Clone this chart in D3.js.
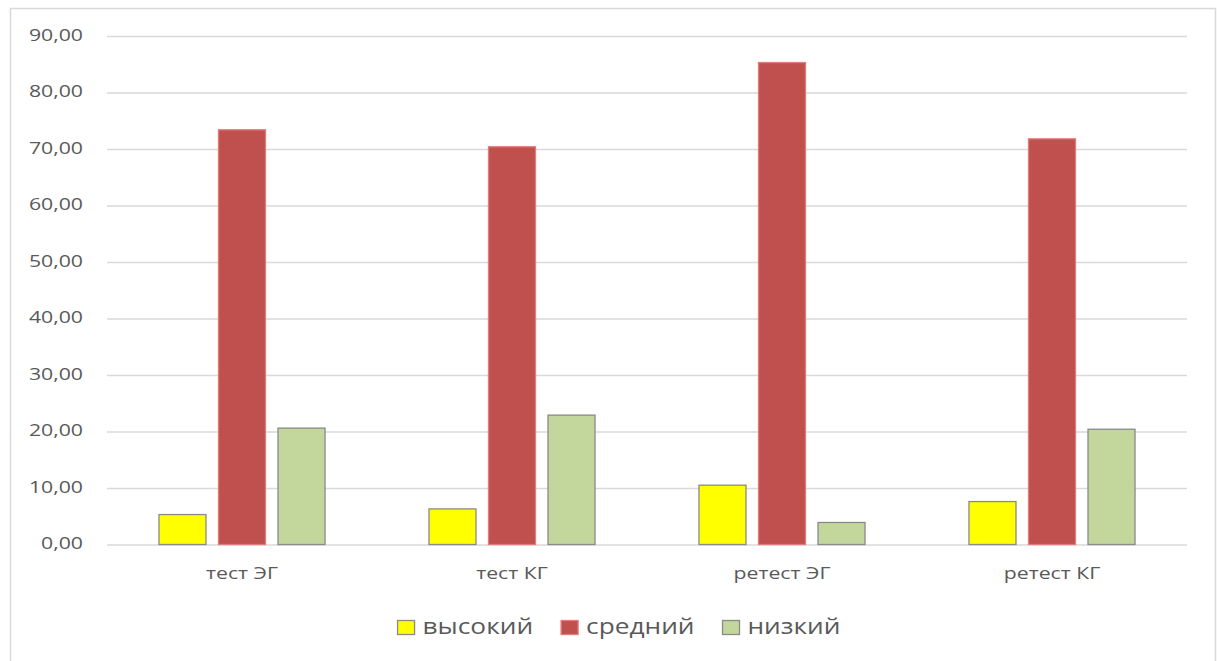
<!DOCTYPE html>
<html>
<head>
<meta charset="utf-8">
<script src="https://cdn.jsdelivr.net/npm/d3@7"></script>
<style>
  html, body { margin: 0; padding: 0; background: #fff; }
  svg { display: block; }
  text { font-family: "Open Sans", "Noto Sans", sans-serif; fill: #595959; }
</style>
</head>
<body>
<svg id="chart" width="1217" height="661"></svg>
<script>
// Groups along the x axis
const categories = ["тест ЭГ", "тест КГ", "ретест ЭГ", "ретест КГ"];
// Levels (series), in legend order
const seriesNames = ["высокий", "средний", "низкий"];
// Percentages per group for each level
const highValues = [5.3, 6.3, 10.5, 7.6];
const midValues = [73.4, 70.4, 85.3, 71.8];
const lowValues = [20.6, 22.9, 3.9, 20.4];
// Value axis ticks
const yTicks = [0, 10, 20, 30, 40, 50, 60, 70, 80, 90];

const seriesValues = [highValues, midValues, lowValues];
const fills = ["#FFFF00", "#C0504D", "#C3D69B"];
const strokes = ["#8a8a8a", "#e07c7a", "#8a8a8a"];
const textStretch = 1.25;

const svg = d3.select("#chart");

// Outer chart frame
svg.append("rect")
  .attr("x", 10.5).attr("y", 8.5)
  .attr("width", 1205).attr("height", 670)
  .attr("fill", "#fff").attr("stroke", "#d9d9d9").attr("stroke-width", 1.5);

const plot = { left: 107, right: 1187, top: 36, bottom: 544.5 };

const y = d3.scaleLinear().domain([0, 90]).range([plot.bottom, plot.top]);
const x0 = d3.scaleBand().domain(categories)
  .range([plot.left, plot.right])
  .paddingInner(0.385).paddingOuter(0.1925);
const x1 = d3.scaleBand().domain(seriesNames)
  .range([0, x0.bandwidth()])
  .paddingInner(0.21);

const ruLocale = d3.formatLocale({ decimal: ",", thousands: " ", grouping: [3], currency: ["", " ₽"] });
const fmt = ruLocale.format(".2f");

// Value axis with gridlines
const yAxis = svg.append("g")
  .attr("transform", `translate(${plot.left},0)`)
  .call(d3.axisLeft(y).tickValues(yTicks).tickFormat(fmt)
    .tickSize(-(plot.right - plot.left)).tickPadding(0));
yAxis.select(".domain").remove();
yAxis.selectAll(".tick line").attr("stroke", "#d9d9d9").attr("stroke-width", 1.5);
yAxis.selectAll(".tick text")
  .attr("x", -24 / textStretch)
  .attr("dy", "0.24em")
  .attr("transform", `scale(${textStretch},1)`)
  .style("font-size", "17px")
  .style("fill", "#595959");

// Bars
const groups = svg.append("g").selectAll("g")
  .data(categories)
  .join("g")
  .attr("transform", d => `translate(${x0(d)},0)`);

groups.selectAll("rect")
  .data((c, ci) => seriesNames.map((s, si) => ({ s, si, v: seriesValues[si][ci] })))
  .join("rect")
  .attr("x", d => x1(d.s))
  .attr("y", d => y(d.v))
  .attr("width", x1.bandwidth())
  .attr("height", d => y(0) - y(d.v))
  .attr("fill", d => fills[d.si])
  .attr("stroke", d => strokes[d.si])
  .attr("stroke-width", 1.3);

// Category axis labels
const xAxis = svg.append("g")
  .attr("transform", `translate(0,${plot.bottom})`)
  .call(d3.axisBottom(x0).tickSize(0).tickPadding(22));
xAxis.select(".domain").remove();
xAxis.selectAll(".tick text")
  .attr("transform", `scale(${textStretch},1)`)
  .style("font-size", "17px")
  .style("fill", "#595959");

// Legend
const legend = svg.append("g");
const items = legend.selectAll("g").data(seriesNames).join("g");
items.append("rect")
  .attr("width", 17).attr("height", 14)
  .attr("y", -7)
  .attr("fill", (d, i) => fills[i])
  .attr("stroke", (d, i) => strokes[i])
  .attr("stroke-width", 1.3);
items.append("text")
  .attr("x", 25 / textStretch)
  .attr("dy", "0.33em")
  .attr("transform", `scale(${textStretch},1)`)
  .style("font-size", "21px")
  .text(d => d);

let offset = 0;
const gapAfter = 28;
items.each(function () {
  const g = d3.select(this);
  g.attr("transform", `translate(${offset},0)`);
  const tw = g.select("text").node().getComputedTextLength() * textStretch;
  offset += 25 + tw + gapAfter;
});
const totalW = offset - gapAfter;
legend.attr("transform", `translate(${619 - totalW / 2},627.5)`);
</script>
</body>
</html>
